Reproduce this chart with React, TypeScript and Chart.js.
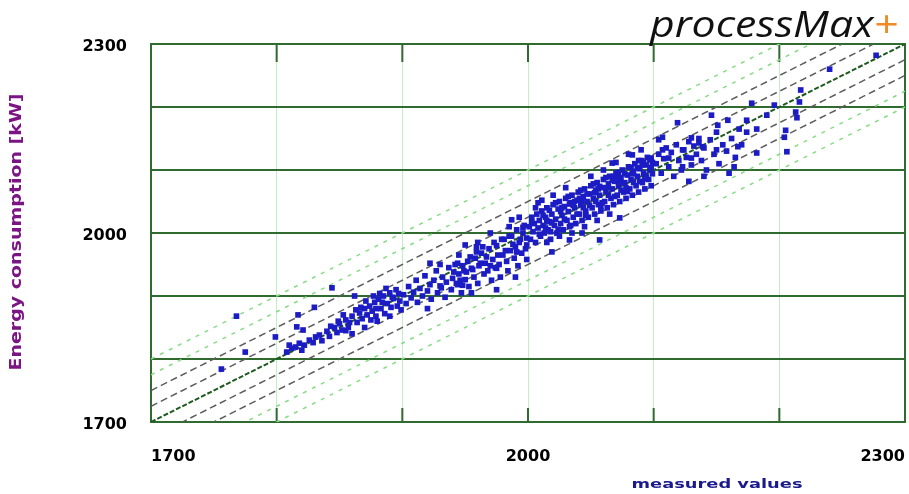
import React, { useEffect, useRef } from 'react';
import { Chart, registerables } from 'chart.js';

Chart.register(...registerables);

// ---- axis setup ----
const axisMin = 1700;
const axisMax = 2300;
const tickStep = 100;
const labeledTicks = [1700, 2000, 2300];

// ---- tolerance band offsets around y = x (kW) ----
const bandOffsets = [-100, -75, -50, -25, 0, 25, 50, 75, 100];

const titleText = 'processMax';
const titlePlus = '+';
const yAxisTitle = 'Energy consumption [kW]';
const xAxisTitle = 'measured values';

// ---- scatter data: [measured, model] ----
const lowRange = [
  [1756, 1784], [1768, 1868], [1775, 1811], [1799, 1835], [1808, 1811], [1812, 1817],
  [1815, 1819], [1818, 1825], [1822, 1822], [1826, 1830], [1810, 1822], [1820, 1814],
  [1829, 1826], [1831, 1835], [1834, 1838], [1817, 1870], [1816, 1851], [1821, 1846],
  [1830, 1882], [1844, 1913], [1836, 1829], [1840, 1844],
];
const lowerMid = [
  [1842, 1836], [1846, 1850], [1848, 1842], [1850, 1856], [1852, 1846], [1855, 1862],
  [1857, 1850], [1860, 1868], [1862, 1900], [1864, 1858], [1866, 1873], [1868, 1864],
  [1870, 1880], [1872, 1870], [1874, 1884], [1876, 1876], [1878, 1890], [1879, 1868],
  [1881, 1895], [1883, 1880], [1885, 1900], [1886, 1872], [1888, 1888], [1890, 1905],
  [1891, 1882], [1893, 1896], [1895, 1910], [1896, 1884], [1898, 1892], [1899, 1878],
  [1870, 1850], [1860, 1840], [1880, 1860], [1855, 1845], [1875, 1862], [1890, 1868],
  [1843, 1852], [1849, 1860], [1853, 1870], [1858, 1858], [1863, 1878], [1867, 1882],
  [1871, 1892], [1877, 1900], [1882, 1904], [1887, 1912], [1892, 1898], [1897, 1904],
  [1884, 1890], [1879, 1880],
];
const midRange = [
  [1901, 1902], [1903, 1888], [1905, 1915], [1907, 1897], [1909, 1906], [1911, 1925],
  [1912, 1890], [1914, 1912], [1916, 1900], [1918, 1932], [1920, 1908], [1922, 1918],
  [1923, 1895], [1925, 1925], [1927, 1940], [1928, 1905], [1930, 1916], [1932, 1930],
  [1934, 1898], [1935, 1922], [1937, 1945], [1939, 1910], [1940, 1928], [1942, 1950],
  [1944, 1918], [1945, 1935], [1947, 1905], [1949, 1940], [1950, 1926], [1952, 1955],
  [1953, 1915], [1955, 1944], [1957, 1930], [1958, 1960], [1960, 1920], [1961, 1948],
  [1963, 1968], [1965, 1935], [1966, 1952], [1968, 1940], [1969, 1975], [1971, 1925],
  [1972, 1958], [1974, 1945], [1975, 1980], [1977, 1950], [1978, 1930], [1980, 1965],
  [1981, 1990], [1983, 1955], [1984, 1940], [1986, 1972], [1987, 1995], [1989, 1960],
  [1990, 1978], [1992, 1948], [1993, 1985], [1995, 1968], [1996, 2000], [1998, 1975],
  [1999, 1958], [1960, 1985], [1945, 1965], [1930, 1950], [1970, 2000], [1985, 2010],
  [1975, 1910], [1955, 1905], [1990, 1930], [1920, 1880], [1922, 1952], [1950, 1981],
  [1959, 1978], [1987, 2021], [1993, 2025], [1996, 2009], [1948, 1917], [1943, 1920],
  [1931, 1913], [1975, 1944], [1991, 1970], [1999, 1981], [1941, 1938], [1944, 1952],
  [1946, 1925], [1948, 1948], [1951, 1938], [1954, 1962], [1956, 1942], [1959, 1970],
  [1962, 1952], [1964, 1978], [1967, 1962], [1970, 1948], [1973, 1985], [1976, 1965],
  [1979, 1990], [1982, 1972], [1985, 1995], [1988, 1982], [1991, 2005], [1994, 1990],
  [1997, 2012], [1999, 1992],
];
const upperMid = [
  [2001, 2010], [2002, 1990], [2003, 2025], [2004, 2002], [2005, 2015], [2006, 1985],
  [2007, 2030], [2008, 2008], [2009, 2020], [2010, 1995], [2011, 2035], [2012, 2012],
  [2013, 2000], [2014, 2025], [2015, 2040], [2016, 2005], [2017, 2018], [2018, 1990],
  [2019, 2030], [2020, 2045], [2021, 2012], [2022, 2022], [2023, 2000], [2024, 2038],
  [2025, 2050], [2026, 2015], [2027, 2028], [2028, 2005], [2029, 2042], [2030, 2055],
  [2031, 2020], [2032, 2034], [2033, 2010], [2034, 2048], [2035, 2060], [2036, 2025],
  [2037, 2040], [2038, 2015], [2039, 2052], [2040, 2065], [2041, 2030], [2042, 2045],
  [2043, 2020], [2044, 2058], [2045, 2070], [2046, 2035], [2047, 2050], [2048, 2025],
  [2049, 2062], [2050, 2075], [2051, 2040], [2052, 2055], [2053, 2030], [2054, 2068],
  [2055, 2080], [2056, 2045], [2057, 2060], [2058, 2035], [2059, 2072], [2060, 2085],
  [2061, 2050], [2062, 2066], [2063, 2040], [2064, 2078], [2065, 2090], [2066, 2055],
  [2067, 2070], [2068, 2045], [2069, 2082], [2070, 2095], [2071, 2060], [2072, 2075],
  [2073, 2050], [2074, 2088], [2075, 2100], [2076, 2065], [2077, 2080], [2078, 2055],
  [2079, 2092], [2080, 2105], [2081, 2070], [2082, 2085], [2083, 2060], [2084, 2098],
  [2085, 2110], [2086, 2075], [2087, 2090], [2088, 2065], [2089, 2102], [2090, 2115],
  [2091, 2080], [2092, 2095], [2093, 2070], [2094, 2108], [2095, 2120], [2096, 2085],
  [2097, 2100], [2098, 2075], [2099, 2112], [2015, 1985], [2025, 1995], [2035, 2000],
  [2045, 2010], [2055, 2020], [2065, 2030], [2008, 2048], [2020, 2060], [2030, 2072],
  [2050, 2090], [2060, 2100], [2070, 2112], [2080, 2125], [2090, 2132], [2019, 1970],
  [2033, 1989], [2043, 2000], [2073, 2024], [2057, 1989], [2067, 2111], [2083, 2124],
  [2091, 2108], [2098, 2119],
];
const upperMidDense = [
  [2003, 2018], [2006, 2040], [2009, 1998], [2012, 2028], [2014, 2008], [2017, 2036],
  [2019, 2016], [2022, 2048], [2024, 2006], [2027, 2040], [2029, 2022], [2032, 2058],
  [2034, 2012], [2037, 2050], [2039, 2030], [2042, 2068], [2044, 2040], [2047, 2062],
  [2049, 2044], [2052, 2078], [2054, 2050], [2057, 2074], [2059, 2048], [2062, 2088],
  [2064, 2060], [2067, 2084], [2069, 2058], [2072, 2096], [2074, 2068], [2077, 2094],
  [2079, 2066], [2082, 2104], [2084, 2080], [2087, 2104], [2089, 2082], [2092, 2112],
  [2094, 2090], [2097, 2116], [2099, 2094], [2011, 2052], [2018, 2002], [2026, 2034],
  [2033, 2046], [2041, 2055], [2046, 2028], [2053, 2064], [2058, 2042], [2063, 2072],
  [2068, 2090], [2073, 2080], [2078, 2072], [2083, 2094], [2088, 2115], [2093, 2086],
  [2098, 2104], [2015, 2020], [2036, 2044], [2043, 2050], [2056, 2070], [2071, 2086],
];
const highRange = [
  [2102, 2110], [2104, 2125], [2106, 2095], [2108, 2118], [2110, 2135], [2112, 2105],
  [2114, 2128], [2116, 2090], [2118, 2140], [2120, 2115], [2122, 2100], [2124, 2132],
  [2126, 2120], [2128, 2145], [2130, 2108], [2132, 2138], [2134, 2125], [2136, 2150],
  [2138, 2115], [2140, 2135], [2142, 2100], [2145, 2148], [2148, 2125], [2150, 2160],
  [2152, 2110], [2155, 2140], [2158, 2130], [2160, 2095], [2162, 2150], [2165, 2120],
  [2168, 2165], [2170, 2140], [2119, 2175], [2130, 2151], [2107, 2152], [2107, 2132],
  [2136, 2143], [2123, 2132], [2112, 2119], [2130, 2119], [2150, 2132], [2139, 2137],
  [2123, 2105], [2167, 2137], [2182, 2127], [2164, 2105], [2159, 2179], [2151, 2171],
  [2146, 2187], [2174, 2179], [2182, 2165], [2174, 2160], [2104, 2148], [2140, 2090],
  [2128, 2082],
];
const topRange = [
  [2178, 2206], [2196, 2203], [2190, 2187], [2217, 2227], [2216, 2208], [2213, 2192],
  [2214, 2183], [2205, 2163], [2204, 2152], [2206, 2129], [2240, 2260], [2277, 2282],
];

const allPoints = [...lowRange, ...lowerMid, ...midRange, ...upperMid, ...upperMidDense, ...highRange, ...topRange];

const DARK_GREEN = '#2f6b2f';

const framePlugin = {
  id: 'frameTicks',
  beforeDatasetsDraw(chart: any) {
    const { ctx, chartArea: a, scales } = chart;
    const x = scales.x;
    ctx.save();
    ctx.strokeStyle = DARK_GREEN;
    ctx.lineWidth = 2;
    ctx.strokeRect(a.left, a.top, a.right - a.left, a.bottom - a.top);
    ctx.beginPath();
    for (let v = axisMin + tickStep; v < axisMax; v += tickStep) {
      const px = x.getPixelForValue(v);
      ctx.moveTo(px, a.top);
      ctx.lineTo(px, a.top + 18);
      ctx.moveTo(px, a.bottom);
      ctx.lineTo(px, a.bottom - 14);
    }
    ctx.stroke();
    ctx.restore();
  },
};

function stretchedText(ctx: CanvasRenderingContext2D, text: string, font: string, color: string, cx: number, cy: number, targetWidth: number, rotate: boolean) {
  ctx.save();
  ctx.font = font;
  const w = ctx.measureText(text).width;
  ctx.translate(cx, cy);
  if (rotate) ctx.rotate(-Math.PI / 2);
  ctx.scale(targetWidth / w, 1);
  ctx.fillStyle = color;
  ctx.textAlign = 'center';
  ctx.textBaseline = 'middle';
  ctx.fillText(text, 0, 0);
  ctx.restore();
}

const textPlugin = {
  id: 'texts',
  afterDraw(chart: any) {
    const ctx: CanvasRenderingContext2D = chart.ctx;
    // brand title
    ctx.save();
    ctx.font = 'italic 36px "Open Sans"';
    const wMain = ctx.measureText(titleText).width;
    const wAll = ctx.measureText(titleText + titlePlus).width;
    const sx = 248 / wAll;
    ctx.translate(650, 37);
    ctx.scale(sx, 1);
    ctx.textBaseline = 'alphabetic';
    ctx.textAlign = 'left';
    ctx.fillStyle = '#111111';
    ctx.fillText(titleText, 0, 0);
    ctx.fillStyle = '#f08a24';
    ctx.fillText(titlePlus, wMain, 0);
    ctx.restore();
    // axis titles
    stretchedText(ctx, yAxisTitle, 'bold 15px "DejaVu Sans"', '#7b1583', 17, 232, 277, true);
    stretchedText(ctx, xAxisTitle, 'bold 13px "DejaVu Sans"', '#1a1a8c', 717, 485, 171, false);
  },
};

export default function App() {
  const ref = useRef<HTMLCanvasElement>(null);

  useEffect(() => {
    if (!ref.current) return;
    const bandDatasets = bandOffsets.map((d) => {
      const abs = Math.abs(d);
      const style = d === 0
        ? { borderColor: '#1e5a1e', borderWidth: 2, borderDash: [5, 2] }
        : abs <= 50
          ? { borderColor: '#5c5c5c', borderWidth: 1.5, borderDash: [7, 4] }
          : { borderColor: '#86dc86', borderWidth: 1.5, borderDash: [4, 6] };
      return {
        type: 'line' as const,
        label: `band ${d}`,
        data: [{ x: axisMin, y: axisMin + d }, { x: axisMax, y: axisMax + d }],
        showLine: true,
        pointRadius: 0,
        fill: false,
        order: 2,
        ...style,
      };
    });

    const chart = new Chart(ref.current, {
      type: 'scatter',
      data: {
        datasets: [
          {
            label: 'Energy consumption',
            data: allPoints.map(([x, y]) => ({ x, y })),
            pointStyle: 'rect',
            pointRadius: 4,
            pointBackgroundColor: '#1c1cc4',
            pointBorderWidth: 0,
            backgroundColor: '#1c1cc4',
            borderColor: '#1c1cc4',
            order: 1,
          } as any,
          ...bandDatasets,
        ],
      },
      options: {
        responsive: false,
        animation: false,
        devicePixelRatio: 1,
        layout: { padding: { left: 0, right: 3, top: 44, bottom: 0 } },
        plugins: {
          legend: { display: false },
          tooltip: { enabled: false },
        },
        scales: {
          x: {
            type: 'linear',
            min: axisMin,
            max: axisMax,
            afterFit: (s: any) => { s.height = 72; s.paddingLeft = 0; s.paddingRight = 0; },
            grid: { color: '#c6eec6', lineWidth: 1, drawTicks: false },
            border: { display: false },
            ticks: {
              stepSize: tickStep,
              autoSkip: false,
              maxRotation: 0,
              align: 'inner',
              padding: 25,
              color: '#000',
              font: { family: 'DejaVu Sans', size: 16, weight: 'bold' },
              callback: (v: any) => (labeledTicks.includes(Number(v)) ? String(v) : ''),
            },
          },
          y: {
            type: 'linear',
            min: axisMin,
            max: axisMax,
            afterFit: (s: any) => { s.width = 151; },
            grid: { color: DARK_GREEN, lineWidth: 2, drawTicks: false },
            border: { display: false },
            ticks: {
              stepSize: tickStep,
              autoSkip: false,
              padding: 24,
              labelOffset: 3,
              color: '#000',
              font: { family: 'DejaVu Sans', size: 16, weight: 'bold' },
              callback: (v: any) => (labeledTicks.includes(Number(v)) ? String(v) : ''),
            },
          },
        },
      } as any,
      plugins: [framePlugin, textPlugin],
    });
    return () => chart.destroy();
  }, []);

  return (
    <div style={{ position: 'absolute', left: 0, top: 0, width: 909, height: 494, background: '#ffffff' }}>
      <canvas ref={ref} width={909} height={494} style={{ display: 'block' }} />
    </div>
  );
}
